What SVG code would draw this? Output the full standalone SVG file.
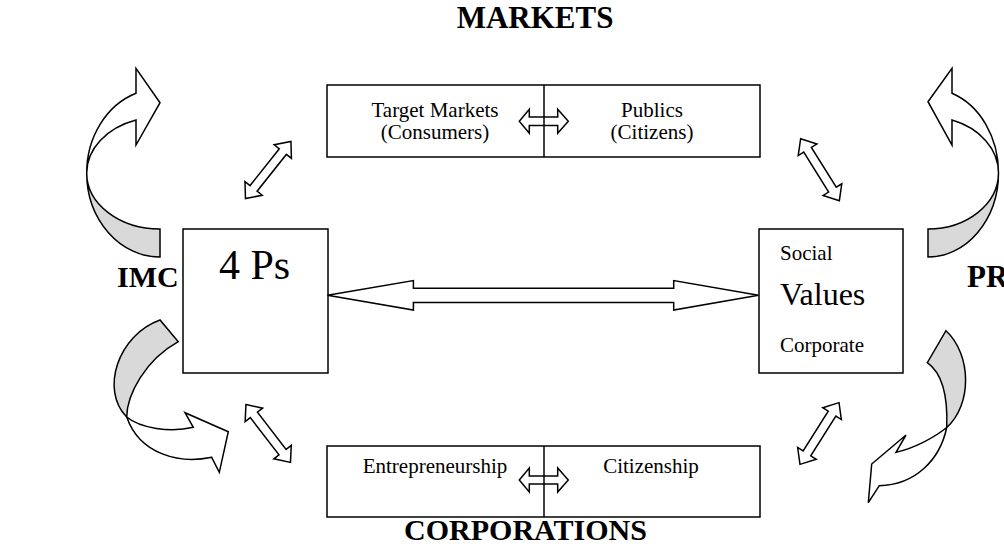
<svg xmlns="http://www.w3.org/2000/svg" xmlns:xlink="http://www.w3.org/1999/xlink" width="1004" height="546" viewBox="0 0 1004 546">
<style>
.box{fill:#fff;stroke:#000;stroke-width:1.5}
.ln{stroke:#000;stroke-width:1.5;fill:none}
.arr{fill:#fff;stroke:#000;stroke-width:1.5;stroke-linejoin:miter}
.arrn{fill:none;stroke:#000;stroke-width:1.5}
.grey{fill:#d9d9d9;stroke:#000;stroke-width:1.5}
.t{font-family:"Liberation Serif","Times New Roman",serif;fill:#000}
.b{font-family:"Liberation Serif","Times New Roman",serif;font-weight:bold;font-size:31px;fill:#000}
</style>
<defs>
<polygon id="dbl" points="-36.5,0 -23.5,-11 -23.5,-4.5 23.5,-4.5 23.5,-11 36.5,0 23.5,11 23.5,4.5 -23.5,4.5 -23.5,11"/>
</defs>
<rect width="1004" height="546" fill="#fff"/>

<g id="labels">
<text class="b" x="535" y="28" text-anchor="middle">MARKETS</text>
<text class="b" x="525.5" y="540" text-anchor="middle" style="font-size:30px">CORPORATIONS</text>
<text class="b" x="117" y="287" style="font-size:30px">IMC</text>
<text class="b" x="967" y="287">PR</text>
</g>

<g id="markets">
<rect class="box" x="327" y="85" width="433" height="72"/>
<text class="t" font-size="21" x="435" y="117" text-anchor="middle">Target Markets</text>
<text class="t" font-size="21" x="435" y="139" text-anchor="middle">(Consumers)</text>
<text class="t" font-size="21" x="652" y="117" text-anchor="middle">Publics</text>
<text class="t" font-size="21" x="652" y="139" text-anchor="middle">(Citizens)</text>
</g>

<g id="corporations">
<rect class="box" x="327" y="446" width="433" height="71"/>
<text class="t" font-size="21" x="435" y="473" text-anchor="middle">Entrepreneurship</text>
<text class="t" font-size="21" x="651" y="473" text-anchor="middle">Citizenship</text>
</g>

<g id="fourps">
<rect class="box" x="183" y="229" width="145" height="144"/>
<text class="t" font-size="42" x="219" y="279">4 Ps</text>
</g>

<g id="values">
<rect class="box" x="759" y="229" width="144" height="144"/>
<text class="t" font-size="21" x="780" y="260">Social</text>
<text class="t" font-size="32" x="780" y="305">Values</text>
<text class="t" font-size="21" x="780" y="352">Corporate</text>
</g>

<g id="connectors">
<line class="ln" x1="544" y1="85" x2="544" y2="157"/>
<line class="ln" x1="544" y1="446" x2="544" y2="517"/>
<polygon class="arrn" points="519.3,121.3 529.3,109.3 529.3,117.1 557.7,117.1 557.7,109.3 568.3,121.3 557.7,133.3 557.7,125.5 529.3,125.5 529.3,133.3"/>
<polygon class="arrn" points="519.3,480 529.3,468 529.3,476 557.7,476 557.7,468 568.3,480 557.7,492 557.7,484 529.3,484 529.3,492"/>
<polygon class="arr" points="327.5,295.3 413.4,280.6 413.4,288.3 673.7,288.3 673.7,280.6 758.5,295.3 673.7,310 673.7,302.4 413.4,302.4 413.4,310"/>
<use xlink:href="#dbl" class="arr" transform="translate(268.2,170) rotate(-51.5)"/>
<use xlink:href="#dbl" class="arr" transform="translate(820,169.7) rotate(58)"/>
<use xlink:href="#dbl" class="arr" transform="translate(268.2,433.5) rotate(52.4)"/>
<use xlink:href="#dbl" class="arr" transform="translate(819.5,433.5) rotate(-57.7)"/>
</g>

<g id="cycle-imc-top">
<path class="grey" d="M86.7,173 A73.3,84.2 0 0 0 160,257 L160,229 A73.3,56 0 0 1 86.7,173 Z"/>
<path class="arr" d="M160,102.7 L136,68.3 L136,93.3 A73.3,84.2 0 0 0 86.7,173 A73.3,56 0 0 1 136,120 L136,145 Z"/>
</g>
<g id="cycle-pr-top">
<path class="grey" d="M998.5,173 A70.5,84.4 0 0 1 928,257 L928,229 A70.5,56.2 0 0 0 998.5,173 Z"/>
<path class="arr" d="M928,101.7 L952,68.3 L952,93.3 A70.5,84.4 0 0 1 998.5,173 A70.5,56.2 0 0 0 952,120 L952,145 Z"/>
</g>
<g id="cycle-imc-bottom">
<path class="grey" d="M160,320 C118,335 100,390 126.7,417 C127,395 145,360 178.3,341.7 Z"/>
<path class="arr" d="M126.7,417 C140,428 170,433 193.3,427.3 L185,412.7 L228.3,431.7 L219.3,472.3 L211.7,457.3 C180,464 140,455 126.7,417 Z"/>
</g>
<g id="cycle-pr-bottom">
<path class="grey" d="M946,330.7 C972,355 972,405 946.7,427.5 C948,395 942,373 927.3,362.7 Z"/>
<path class="arr" d="M946.7,427.5 C935,437 915,448 896,452.3 L906,435 L871.7,464 L868.3,502.7 L879.3,485.7 C915,485 940,460 946.7,427.5 Z"/>
</g>
</svg>
